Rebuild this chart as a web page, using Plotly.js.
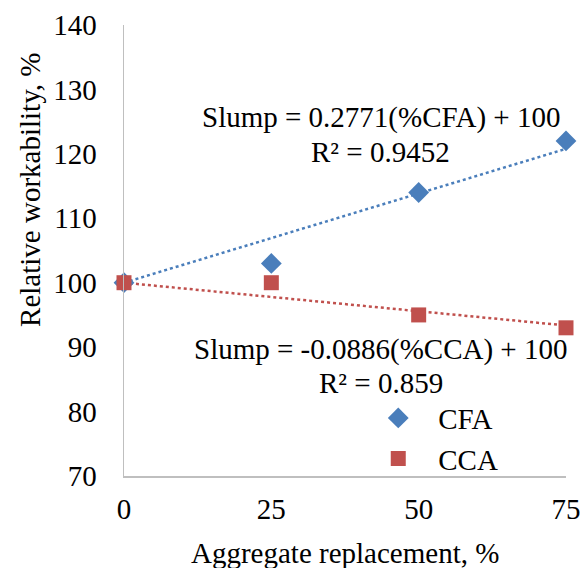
<!DOCTYPE html>
<html>
<head>
<meta charset="utf-8">
<script src="https://cdn.plot.ly/plotly-3.0.1.min.js"></script>
<style>html,body{margin:0;padding:0;background:#fff;}#chart{width:586px;height:568px;}</style>
</head>
<body>
<div id="chart"></div>
<script>
var replacement = [0, 25, 50, 75];
var cfaValues = [100, 103, 114, 122];
var ccaValues = [100, 100, 95, 93];
var trendX = [0, 75];
var trendCFA = [100, 120.78];
var trendCCA = [100, 93.36];
var xTicks = [0, 25, 50, 75];
var yTicks = [70, 80, 90, 100, 110, 120, 130, 140];

var FONT = 'Liberation Serif, Times New Roman, serif';
var BLUE = '#4a7ebb';
var RED = '#c0504d';
var FS = 29;

var traces = [
  {x: trendX, y: trendCFA, mode: 'lines', line: {color: BLUE, width: 2.5, dash: 'dot'}, showlegend: false, hoverinfo: 'skip', cliponaxis: false},
  {x: trendX, y: trendCCA, mode: 'lines', line: {color: RED, width: 2.5, dash: 'dot'}, showlegend: false, hoverinfo: 'skip', cliponaxis: false},
  {x: replacement, y: cfaValues, mode: 'markers', name: 'CFA', marker: {symbol: 'diamond', size: 16, color: BLUE}, cliponaxis: false},
  {x: replacement, y: ccaValues, mode: 'markers', name: 'CCA', marker: {symbol: 'square', size: 15, color: RED}, cliponaxis: false}
];

var layout = {
  width: 586, height: 568,
  margin: {l: 124, r: 20, t: 25, b: 92},
  paper_bgcolor: '#fff', plot_bgcolor: '#fff',
  font: {family: FONT, size: FS, color: '#000'},
  showlegend: true,
  legend: {x: 0.530, y: 0.083, xanchor: 'left', yanchor: 'middle', font: {family: FONT, size: FS}, bgcolor: 'rgba(0,0,0,0)', tracegroupgap: 0, itemwidth: 70},
  xaxis: {
    range: [0, 75], tickvals: xTicks, ticktext: xTicks.map(String),
    showgrid: false, zeroline: false, showline: true, linecolor: '#bfbfbf', linewidth: 1.5,
    ticks: '', ticklabelstandoff: 7, tickfont: {family: FONT, size: FS}, fixedrange: true
  },
  yaxis: {
    range: [70, 140], tickvals: yTicks, ticktext: yTicks.map(String),
    showgrid: false, zeroline: false, showline: true, linecolor: '#bfbfbf', linewidth: 1.5,
    ticks: '', ticklabelstandoff: 20, tickfont: {family: FONT, size: FS}, fixedrange: true
  },
  annotations: [
    {xref: 'paper', yref: 'paper', x: -0.213, y: 0.634, xanchor: 'center', yanchor: 'middle', textangle: -90,
     text: 'Relative workability, %', showarrow: false, font: {family: FONT, size: FS}},
    {xref: 'paper', yref: 'paper', x: 0.5, y: -0.171, xanchor: 'center', yanchor: 'middle',
     text: 'Aggregate replacement, %', showarrow: false, font: {family: FONT, size: FS}},
    {xref: 'x', yref: 'y', x: 43.6, y: 125.57, text: 'Slump = 0.2771(%CFA) + 100', showarrow: false, font: {family: FONT, size: FS}},
    {xref: 'x', yref: 'y', x: 43.6, y: 120.29, text: 'R² = 0.9452', showarrow: false, font: {family: FONT, size: FS}},
    {xref: 'x', yref: 'y', x: 43.6, y: 89.56, text: 'Slump = -0.0886(%CCA) + 100', showarrow: false, font: {family: FONT, size: FS}},
    {xref: 'x', yref: 'y', x: 43.6, y: 84.44, text: 'R² = 0.859', showarrow: false, font: {family: FONT, size: FS}}
  ]
};

Plotly.newPlot('chart', traces, layout, {displayModeBar: false, staticPlot: true});
</script>
</body>
</html>
